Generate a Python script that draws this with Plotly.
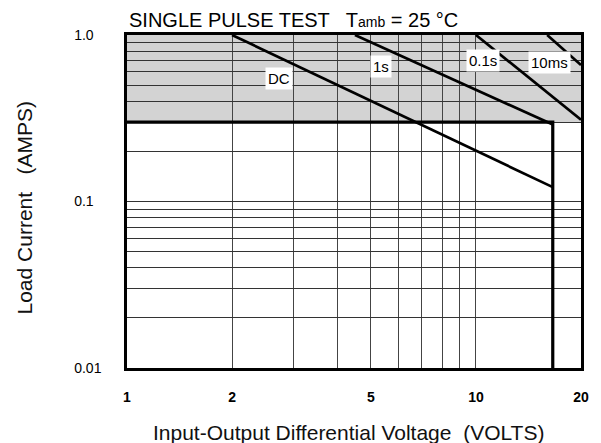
import math
import plotly.graph_objects as go

# ---- data ----
volts_grid = [1, 2, 3, 4, 5, 6, 7, 8, 9, 10, 20]
volts_labels = ["1", "2", "", "", "5", "", "", "", "", "10", "20"]

amps_grid = [0.01, 0.02, 0.03, 0.04, 0.05, 0.06, 0.07, 0.08, 0.09,
             0.1, 0.2, 0.3, 0.4, 0.5, 0.6, 0.7, 0.8, 0.9, 1.0]
amps_labels = ["0.01", "", "", "", "", "", "", "", "",
               "0.1\u00a0\u00a0", "", "", "", "", "", "", "", "", "1.0\u00a0\u00a0"]

# safe operating curves (volts, amps)
dc_v = [2.0, 16.6]
dc_i = [1.0, 0.122]
s1_v = [4.5, 16.6]
s1_i = [1.0, 0.29]
s01_v = [10.0, 20.0]
s01_i = [1.0, 0.31]
ms10_v = [16.0, 20.0]
ms10_i = [1.0, 0.66]

# continuous-rating boundary
limit_v = [1.0, 16.6, 16.6]
limit_i = [0.3, 0.3, 0.01]

# pulse-only (shaded) region
pulse_v = [1.0, 20.0]
pulse_i = [0.3, 1.0]

# curve labels
label_text = ["DC", "1s", "0.1s", "10ms"]
label_v = [2.72, 5.35, 10.5, 16.2]
label_i = [0.546, 0.645, 0.70, 0.68]

FONT = "Liberation Sans, Arial, Helvetica, sans-serif"

fig = go.Figure()

for v, i in [(dc_v, dc_i), (s1_v, s1_i), (s01_v, s01_i), (ms10_v, ms10_i)]:
    fig.add_trace(go.Scatter(x=v, y=i, mode="lines",
                             line=dict(color="black", width=2.7),
                             showlegend=False, hoverinfo="skip"))

fig.add_trace(go.Scatter(x=limit_v, y=limit_i, mode="lines",
                         line=dict(color="black", width=3.2),
                         showlegend=False, hoverinfo="skip"))

fig.add_shape(type="rect", xref="x", yref="y",
              x0=pulse_v[0], x1=pulse_v[1], y0=pulse_i[0], y1=pulse_i[1],
              fillcolor="#d3d3d3", line=dict(width=0), layer="below")

for t, v, i in zip(label_text, label_v, label_i):
    fig.add_annotation(x=math.log10(v), y=math.log10(i), xref="x", yref="y",
                       text=t, showarrow=False, bgcolor="white",
                       borderpad=2,
                       font=dict(family=FONT, size=15, color="black"))

fig.add_annotation(xref="paper", yref="paper", x=0, y=1, xanchor="left",
                   yanchor="bottom", yshift=2,
                   text="SINGLE PULSE TEST \u00a0 T<span style=\"font-size:14px\">amb</span> = 25 \u00b0C",
                   showarrow=False,
                   font=dict(family=FONT, size=20, color="black"))

fig.add_annotation(xref="paper", yref="paper", x=0.5, y=0, yanchor="middle",
                   yshift=-64, xshift=-6, showarrow=False,
                   text="Input-Output Differential Voltage \u00a0(VOLTS)",
                   font=dict(family=FONT, size=21, color="#111"))

fig.add_annotation(xref="paper", yref="paper", x=0, y=0.5, xanchor="center",
                   yanchor="middle", xshift=-103, yshift=-6, textangle=-90,
                   showarrow=False,
                   text="Load Current \u00a0 (AMPS)",
                   font=dict(family=FONT, size=21, color="#111"))

fig.update_xaxes(type="log", range=[0, math.log10(20)],
                 tickmode="array", tickvals=volts_grid, ticktext=volts_labels,
                 showgrid=True, gridcolor="#444", gridwidth=1,
                 showline=True, linecolor="black", linewidth=2.5, mirror=True,
                 ticks="", ticklabelstandoff=14,
                 tickfont=dict(family=FONT, size=14, color="black", weight="bold"),
                 zeroline=False)
fig.update_yaxes(type="log", range=[-2, 0],
                 tickmode="array", tickvals=amps_grid, ticktext=amps_labels,
                 showgrid=True, gridcolor="#333", gridwidth=1,
                 showline=True, linecolor="black", linewidth=2.5, mirror=True,
                 ticks="", ticklabelstandoff=20,
                 tickfont=dict(family=FONT, size=14, color="black"),
                 zeroline=False)

fig.update_layout(width=593, height=435,
                  margin=dict(l=119, r=14, t=27, b=75),
                  plot_bgcolor="white", paper_bgcolor="white",
                  showlegend=False)

fig.write_html("out.html")
